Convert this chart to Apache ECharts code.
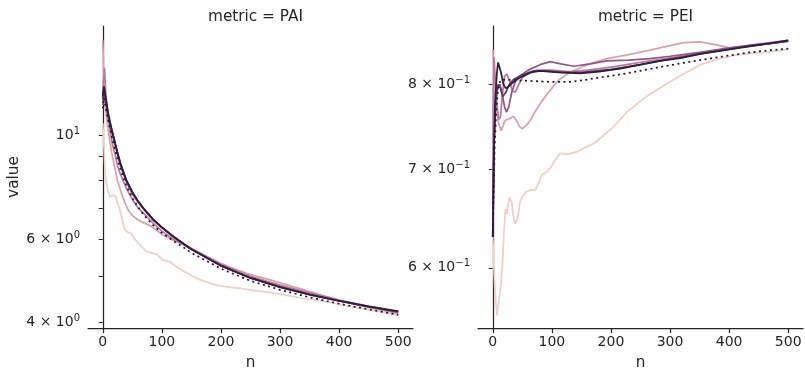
<!DOCTYPE html>
<html><head><meta charset="utf-8">
<script src="https://cdn.jsdelivr.net/npm/echarts@6/dist/echarts.min.js"></script>
<style>html,body{margin:0;padding:0;background:#fff}#c{width:805px;height:370px}</style>
</head><body><div id="c"></div><script>
// ---- tick labels ----
const nTicks = [0, 100, 200, 300, 400, 500];
const paiLabelTicks = [4, 6, 10];
const paiAllTicks = [4, 5, 6, 7, 8, 9, 10];
const peiLabelTicks = [0.6, 0.7, 0.8];
const panelTitles = ['metric = PAI', 'metric = PEI'];

// ---- hue palette (light -> dark) ----
const hueColors = ['#ecd0ca', '#d9a3aa', '#bd7a98', '#945785', '#613969', '#2d1e3e'];
const dottedColor = '#221a30';

// ---- PAI series: [n, value] ----
const pai0 = [[0,10.6],[2,9.5],[4,8.3],[6,7.9],[9,7.6],[12,7.4],[15,7.45],[18,7.45],[22,7.4],[25,7.2],[28,7.0],[32,6.7],[37,6.3],[42,6.22],[48,6.18],[55,6.0],[60,5.89],[67,5.77],[74,5.66],[82,5.62],[91,5.58],[97,5.5],[102,5.43],[108,5.4],[113,5.38],[120,5.3],[128,5.22],[136,5.15],[150,5.03],[164,4.93],[178,4.86],[192,4.8],[205,4.77],[220,4.74],[235,4.72],[248,4.69],[265,4.66],[282,4.63],[300,4.59],[338,4.5],[370,4.44],[395,4.38],[420,4.32],[450,4.25],[475,4.2],[500,4.14]];
const pai1 = [[0,15.9],[1,14.5],[2,12.8],[4,11.6],[6,11.0],[9,10.25],[12,9.7],[15,9.2],[20,8.56],[25,8.0],[32,7.5],[38,7.15],[43,6.93],[50,6.75],[60,6.6],[70,6.5],[79,6.43],[90,6.3],[100,6.15],[108,6.08],[120,5.97],[135,5.86],[150,5.75],[175,5.53],[200,5.34],[225,5.18],[250,5.05],[282,4.93],[300,4.85],[338,4.7],[370,4.57],[400,4.46],[450,4.3],[500,4.18]];
const pai2 = [[0,12.0],[1,13.0],[3,13.9],[5,12.3],[8,11.2],[12,10.3],[16,9.6],[20,9.2],[25,8.6],[30,8.25],[40,7.7],[50,7.3],[60,7.0],[70,6.8],[85,6.5],[100,6.25],[120,6.0],[150,5.73],[200,5.31],[250,5.01],[300,4.8],[350,4.62],[400,4.46],[450,4.32],[500,4.19]];
const pai3 = [[0,11.6],[2,12.3],[5,11.7],[10,10.8],[15,10.2],[20,9.65],[25,9.1],[30,8.6],[40,7.95],[50,7.5],[60,7.2],[70,6.95],[85,6.6],[100,6.36],[120,6.08],[150,5.72],[200,5.27],[250,4.97],[300,4.76],[350,4.59],[400,4.45],[450,4.33],[500,4.22]];
const pai4 = [[0,11.9],[2,12.6],[5,11.9],[10,10.9],[15,10.25],[20,9.7],[25,9.15],[30,8.68],[40,8.0],[50,7.55],[60,7.22],[70,6.95],[85,6.62],[100,6.36],[120,6.07],[150,5.72],[200,5.28],[250,4.97],[300,4.75],[350,4.58],[400,4.44],[450,4.32],[500,4.21]];
const pai5 = [[0,12.1],[2,12.7],[5,12.0],[10,11.0],[15,10.3],[20,9.72],[25,9.18],[30,8.7],[40,8.02],[50,7.57],[60,7.23],[70,6.96],[85,6.63],[100,6.37],[120,6.08],[150,5.72],[200,5.28],[250,4.97],[300,4.75],[350,4.58],[400,4.44],[450,4.32],[500,4.22]];
const paiDot = [[0,11.4],[2,12.0],[5,11.4],[10,10.6],[15,9.95],[20,9.4],[25,8.9],[30,8.45],[40,7.8],[50,7.35],[60,7.02],[70,6.75],[85,6.44],[100,6.2],[120,5.95],[135,5.79],[150,5.62],[200,5.2],[250,4.9],[300,4.69],[350,4.52],[400,4.38],[450,4.26],[500,4.15]];

// ---- PEI series: [n, value] ----
const pei0 = [[0,0.63],[2,0.60],[4,0.575],[7,0.557],[10,0.569],[13,0.58],[16,0.6],[19,0.635],[21.5,0.658],[24,0.653],[28,0.67],[32,0.665],[35,0.65],[38,0.643],[42,0.648],[46,0.665],[50,0.671],[57,0.676],[64,0.678],[72,0.678],[78,0.686],[83,0.694],[90,0.697],[97,0.701],[105,0.71],[114,0.718],[128,0.717],[143,0.72],[158,0.725],[173,0.73],[190,0.74],[204,0.748],[227,0.766],[260,0.785],[295,0.801],[325,0.814],[351,0.825],[380,0.832],[408,0.837],[440,0.84],[464,0.841],[500,0.845]];
const pei1 = [[0,0.845],[2,0.82],[5,0.78],[9,0.755],[14,0.744],[21,0.756],[28,0.758],[35,0.761],[40,0.756],[45,0.749],[50,0.746],[58,0.751],[65,0.758],[72,0.767],[82,0.778],[92,0.788],[111,0.805],[130,0.815],[160,0.825],[193,0.833],[230,0.838],[266,0.844],[300,0.85],[323,0.854],[351,0.855],[379,0.851],[400,0.847],[420,0.848],[450,0.851],[500,0.856]];
const pei2 = [[0,0.66],[1,0.8],[2,0.835],[4,0.81],[7,0.775],[10,0.757],[13,0.76],[16,0.785],[20,0.81],[24,0.813],[28,0.805],[33,0.792],[38,0.79],[44,0.8],[50,0.808],[60,0.815],[75,0.818],[100,0.818],[130,0.816],[160,0.818],[200,0.822],[250,0.828],[300,0.834],[350,0.84],[400,0.846],[450,0.851],[500,0.856]];
const pei3 = [[0,0.63],[2,0.72],[4,0.77],[8,0.795],[12,0.8],[16,0.788],[20,0.772],[23,0.766],[27,0.772],[32,0.79],[38,0.803],[45,0.81],[60,0.818],[80,0.825],[97,0.829],[115,0.826],[137,0.823],[165,0.826],[193,0.83],[230,0.831],[266,0.833],[300,0.836],[350,0.841],[400,0.847],[450,0.852],[500,0.857]];
const pei4 = [[0,0.63],[2,0.73],[5,0.78],[9,0.8],[13,0.795],[17,0.785],[22,0.79],[28,0.8],[35,0.806],[50,0.812],[70,0.817],[90,0.817],[120,0.815],[150,0.815],[200,0.819],[250,0.825],[283,0.83],[320,0.835],[351,0.839],[400,0.845],[435,0.85],[470,0.853],[500,0.856]];
const pei5 = [[0,0.63],[2,0.72],[4,0.78],[7,0.815],[9,0.828],[11,0.83],[14,0.815],[18,0.80],[22,0.795],[26,0.797],[32,0.801],[40,0.806],[50,0.81],[65,0.815],[80,0.817],[110,0.815],[148,0.814],[180,0.816],[216,0.82],[250,0.825],[283,0.83],[320,0.834],[351,0.839],[400,0.845],[435,0.849],[470,0.853],[500,0.857]];
const peiDot = [[0,0.63],[3,0.72],[6,0.77],[9,0.795],[13,0.805],[20,0.806],[40,0.805],[70,0.804],[100,0.803],[130,0.803],[160,0.806],[193,0.81],[220,0.813],[249,0.817],[283,0.822],[320,0.827],[351,0.831],[400,0.837],[435,0.841],[470,0.844],[500,0.846]];

const paiSeries = [pai0, pai1, pai2, pai3, pai4, pai5];
const peiSeries = [pei0, pei1, pei2, pei3, pei4, pei5];

const INK = '#262626';
const FONT = 'DejaVu Sans';

function sciLabel(v) {
  const e = Math.floor(Math.log10(v) + 1e-9);
  const m = Math.round(v / Math.pow(10, e));
  const expStr = (e < 0 ? '\u2212' : '') + Math.abs(e);
  if (m === 1) return '{m|10}{s|' + expStr + '}';
  return '{m|' + m + ' \u00d7 10}{s|' + expStr + '}';
}
const richStyle = {
  m: { fontSize: 14, fontFamily: FONT, color: INK, lineHeight: 18 },
  s: { fontSize: 10, fontFamily: FONT, color: INK, lineHeight: 10, verticalAlign: 'top' }
};

const GW = 325, GH = 302, GT = 26;
const lefts = [88, 478];

function xAxisFor(i) {
  return {
    type: 'value', gridIndex: i, min: -25, max: 525,
    name: 'n', nameLocation: 'middle', nameGap: 28,
    nameTextStyle: { fontSize: 15.3, fontFamily: FONT, color: INK },
    axisLine: { show: true, lineStyle: { color: INK, width: 1.25 } },
    axisTick: { show: true, length: 5, lineStyle: { color: INK, width: 1.25 }, customValues: nTicks },
    axisLabel: { show: true, margin: 7, fontSize: 14, fontFamily: FONT, color: INK, customValues: nTicks },
    splitLine: { show: false }
  };
}

const option = {
  animation: false,
  backgroundColor: '#fff',
  title: panelTitles.map((t, i) => ({
    text: t, left: lefts[i] + GW / 2, top: 5, textAlign: 'center',
    textStyle: { fontSize: 15.3, fontWeight: 'normal', fontFamily: FONT, color: INK }
  })),
  grid: lefts.map(l => ({ left: l, top: GT, width: GW, height: GH, outerBoundsMode: 'none', containLabel: false })),
  xAxis: [xAxisFor(0), xAxisFor(1)],
  yAxis: [
    {
      type: 'log', logBase: 10, gridIndex: 0, min: 3.89, max: 17.06,
      name: 'value', nameLocation: 'middle', nameGap: 66, nameRotate: 90,
      nameTextStyle: { fontSize: 15.3, fontFamily: FONT, color: INK },
      axisLine: { show: true, lineStyle: { color: INK, width: 1.25 } },
      axisTick: { show: true, length: 4, lineStyle: { color: INK, width: 1 }, customValues: paiAllTicks },
      axisLabel: { show: true, margin: 8, customValues: paiLabelTicks, formatter: v => sciLabel(v), rich: richStyle },
      splitLine: { show: false }, minorTick: { show: false }
    },
    {
      type: 'log', logBase: 10, gridIndex: 1, min: 0.546, max: 0.8766,
      axisLine: { show: true, lineStyle: { color: INK, width: 1.25 } },
      axisTick: { show: true, length: 4, lineStyle: { color: INK, width: 1 }, customValues: peiLabelTicks },
      axisLabel: { show: true, margin: 8, customValues: peiLabelTicks, formatter: v => sciLabel(v), rich: richStyle },
      splitLine: { show: false }, minorTick: { show: false }
    }
  ],
  series: []
};

function addLines(list, dot, gi) {
  list.forEach((d, k) => {
    option.series.push({
      type: 'line', xAxisIndex: gi, yAxisIndex: gi, data: d, showSymbol: false, symbol: 'none',
      lineStyle: { color: hueColors[k], width: 1.75 }, z: 2 + k
    });
  });
  option.series.push({
    type: 'line', xAxisIndex: gi, yAxisIndex: gi, data: dot, showSymbol: false, symbol: 'none',
    lineStyle: { color: dottedColor, width: 1.75, type: [2, 3.5] }, z: 10
  });
}
addLines(paiSeries, paiDot, 0);
addLines(peiSeries, peiDot, 1);

const chart = echarts.init(document.getElementById('c'), null, { renderer: 'canvas' });
chart.setOption(option);
</script></body></html>
